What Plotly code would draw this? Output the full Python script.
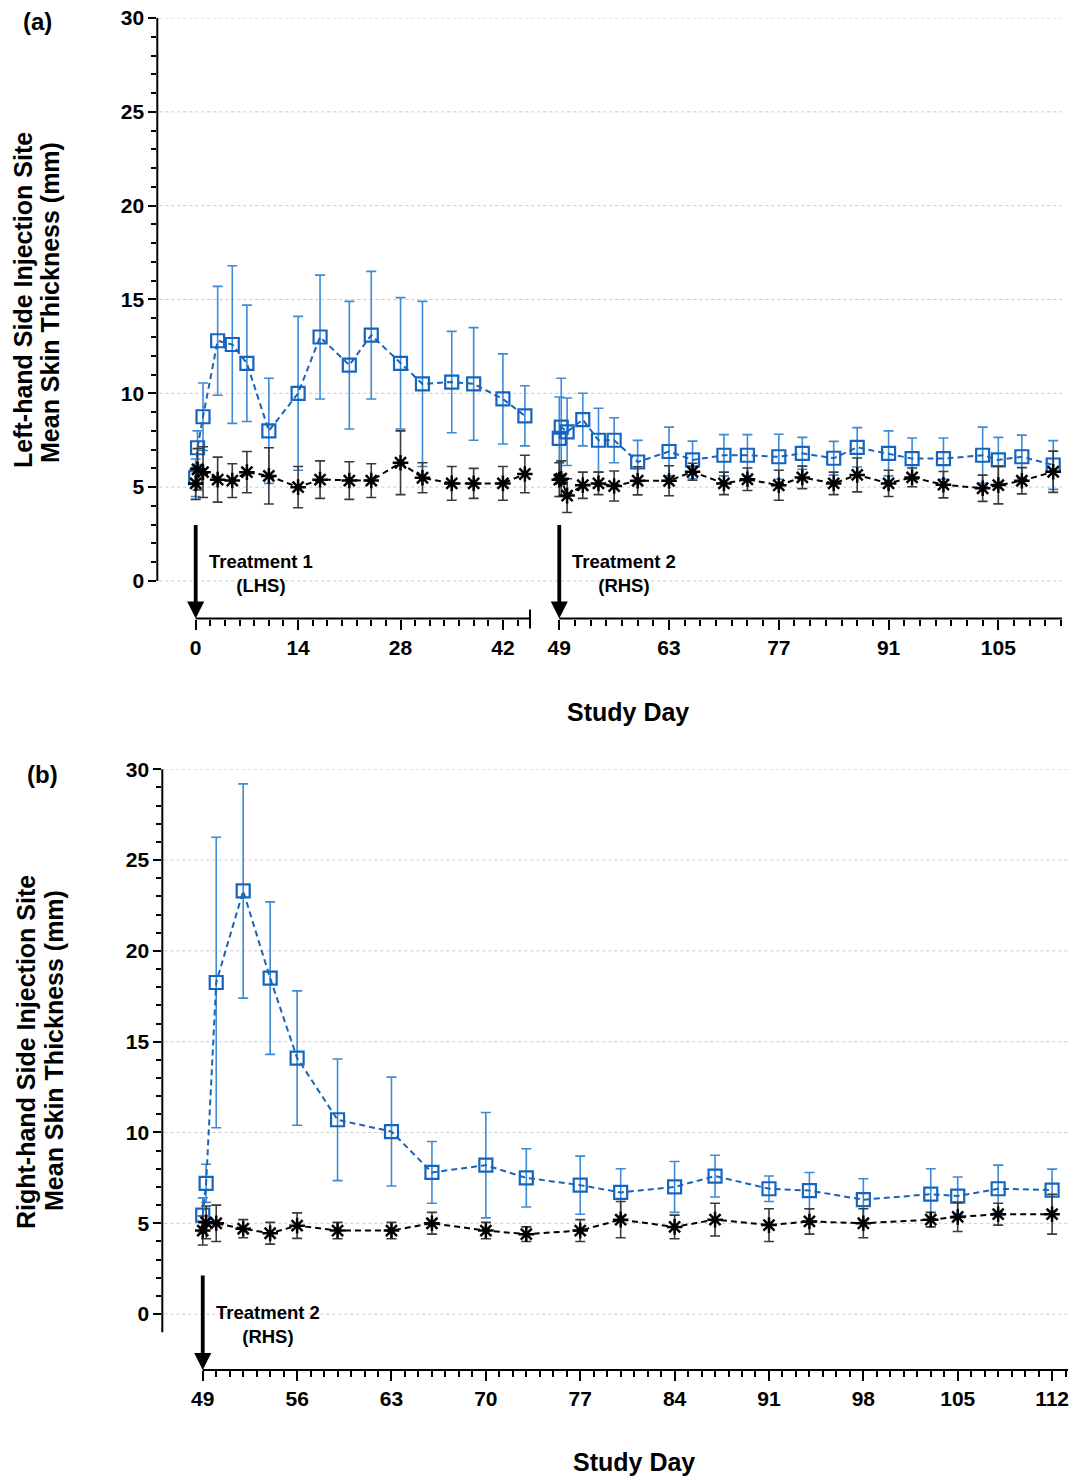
import plotly.graph_objects as go

W, H = 1073, 1477

# ---------------- data ----------------
# Panel (a): left-hand side injection site, segment 1 (Treatment 1)
days_a1 = [0, 0.25, 1, 3, 5, 7, 10, 14, 17, 21, 24, 28, 31, 35, 38, 42, 45]
blue_a1 = [5.5, 7.1, 8.75, 12.8, 12.6, 11.6, 8.0, 10.0, 13.0, 11.5, 13.1, 11.6, 10.5, 10.6, 10.5, 9.7, 8.8]
blue_a1_err = [1.0, 0.9, 1.8, 2.9, 4.2, 3.1, 2.8, 4.1, 3.3, 3.4, 3.4, 3.5, 4.4, 2.7, 3.0, 2.4, 1.6]
black_a1 = [5.2, 5.95, 5.8, 5.4, 5.35, 5.8, 5.6, 5.0, 5.4, 5.35, 5.35, 6.3, 5.5, 5.2, 5.2, 5.2, 5.7]
black_a1_err = [0.85, 1.1, 1.35, 1.2, 0.9, 1.1, 1.5, 1.1, 1.0, 1.0, 0.9, 1.7, 0.8, 0.9, 0.8, 0.9, 1.0]

# Panel (a): segment 2 (after Treatment 2)
days_a2 = [49, 49.25, 50, 52, 54, 56, 59, 63, 66, 70, 73, 77, 80, 84, 87, 91, 94, 98, 103, 105, 108, 112]
blue_a2 = [7.6, 8.2, 7.95, 8.6, 7.5, 7.5, 6.34, 6.9, 6.45, 6.7, 6.7, 6.62, 6.8, 6.54, 7.12, 6.8, 6.52, 6.52, 6.7, 6.45, 6.62, 6.18]
blue_a2_err = [2.2, 2.6, 1.8, 1.4, 1.7, 1.2, 1.15, 1.3, 1.0, 1.1, 1.1, 1.2, 0.85, 0.9, 1.05, 1.2, 1.1, 1.1, 1.5, 1.2, 1.15, 1.3]
black_a2 = [5.4, 5.45, 4.55, 5.1, 5.2, 5.06, 5.34, 5.34, 5.82, 5.2, 5.42, 5.1, 5.52, 5.2, 5.65, 5.2, 5.52, 5.13, 4.94, 5.11, 5.34, 5.82]
black_a2_err = [0.9, 0.95, 0.9, 0.7, 0.6, 0.8, 0.75, 0.8, 0.45, 0.6, 0.6, 0.8, 0.6, 0.6, 0.9, 0.7, 0.5, 0.7, 0.7, 1.0, 0.7, 1.1]

# Panel (b): right-hand side injection site
days_b = [49, 49.25, 50, 52, 54, 56, 59, 63, 66, 70, 73, 77, 80, 84, 87, 91, 94, 98, 103, 105, 108, 112]
blue_b = [5.45, 7.2, 18.26, 23.3, 18.5, 14.1, 10.7, 10.05, 7.8, 8.2, 7.5, 7.1, 6.7, 7.0, 7.6, 6.9, 6.8, 6.3, 6.6, 6.5, 6.9, 6.83]
blue_b_err = [0.95, 1.05, 8.0, 5.9, 4.2, 3.7, 3.35, 3.0, 1.7, 2.9, 1.6, 1.6, 1.3, 1.4, 1.15, 0.7, 1.0, 1.15, 1.4, 1.05, 1.3, 1.15]
black_b = [4.6, 5.05, 5.0, 4.7, 4.45, 4.87, 4.6, 4.6, 5.0, 4.6, 4.4, 4.6, 5.2, 4.8, 5.2, 4.9, 5.1, 5.0, 5.2, 5.35, 5.5, 5.5]
black_b_err = [0.8, 0.9, 1.0, 0.5, 0.6, 0.7, 0.45, 0.45, 0.6, 0.45, 0.4, 0.6, 1.0, 0.65, 0.9, 0.9, 0.7, 0.8, 0.4, 0.8, 0.6, 1.1]

# ticks
ytick_vals = [0, 5, 10, 15, 20, 25, 30]
xtick_a1 = [0, 14, 28, 42]
xtick_a2 = [49, 63, 77, 91, 105]
xtick_b = [49, 56, 63, 70, 77, 84, 91, 98, 105, 112]

# ---------------- styling helpers ----------------
FONT = "Liberation Sans"
BLUE_M = "#1565c0"
BLUE_L = "#1a63b8"
BLUE_E = "#3d8ad6"
BLACK_E = "#3a3a3a"


def fx(px):
    return px / W


def fy(py):
    return 1 - py / H


fig = go.Figure()


def add_pair(days, bl, ble, bk, bke, xa, ya):
    fig.add_trace(go.Scatter(
        x=days, y=bl, mode="lines+markers", xaxis=xa, yaxis=ya,
        line=dict(color=BLUE_L, width=2, dash="6px,4px"),
        marker=dict(symbol="square-open", size=13, color=BLUE_M, line=dict(width=2.2, color=BLUE_M)),
        error_y=dict(type="data", array=ble, visible=True, color=BLUE_E, thickness=1.6, width=5),
        showlegend=False, cliponaxis=False))
    fig.add_trace(go.Scatter(
        x=days, y=bk, mode="lines+markers", xaxis=xa, yaxis=ya,
        line=dict(color="black", width=2, dash="6px,4px"),
        marker=dict(symbol="asterisk-open", size=13, color="black", line=dict(width=2.5, color="black")),
        error_y=dict(type="data", array=bke, visible=True, color=BLACK_E, thickness=1.6, width=5),
        showlegend=False, cliponaxis=False))


add_pair(days_a1, blue_a1, blue_a1_err, black_a1, black_a1_err, "x", "y")
add_pair(days_a2, blue_a2, blue_a2_err, black_a2, black_a2_err, "x2", "y")
add_pair(days_b, blue_b, blue_b_err, black_b, black_b_err, "x3", "y3")

tickfont = dict(family=FONT, size=21, color="black", weight="bold")

# pixel geometry
A_TOP, A_BOT = 18.0, 618.5      # panel a: y=30 .. y=-2
B_TOP, B_BOT = 769.3, 1370.0    # panel b: y=30 .. y=-3.08
A_YAX = 157.3
B_YAX = 162.3
A1_R = 530.0
A2_L, A2_R = 545.0, 1062.0
B_R = 1068.0


def xaxis_cfg(domain, rng, tickvals, minor_vals, anchor):
    return dict(domain=domain, range=rng, anchor=anchor, tickmode="array", tickvals=tickvals,
                ticktext=[str(v) for v in tickvals], ticks="outside", ticklen=10, tickwidth=2,
                tickcolor="black", showline=False, showgrid=False, zeroline=False,
                tickfont=tickfont, ticklabelstandoff=0, automargin=False,
                minor=dict(tickmode="array", tickvals=minor_vals, ticks="outside", ticklen=6,
                           tickwidth=1.6, tickcolor="black", showgrid=False))


def yaxis_cfg(domain, rng, anchor):
    return dict(domain=domain, range=rng, anchor=anchor, tickmode="array", tickvals=ytick_vals,
                ticks="outside", ticklen=8, tickwidth=2, tickcolor="black", automargin=False,
                showline=False, showgrid=False, zeroline=False, tickfont=tickfont,
                minor=dict(tickmode="array", tickvals=[v for v in range(1, 30) if v % 5],
                           ticks="outside", ticklen=5, tickwidth=1.6, tickcolor="black", showgrid=False))


fig.update_layout(
    width=W, height=H,
    margin=dict(l=0, r=0, t=0, b=0, pad=0, autoexpand=False),
    paper_bgcolor="white", plot_bgcolor="white",
    xaxis=xaxis_cfg([fx(A_YAX), fx(A1_R)], [-5.25, 45.7], xtick_a1,
                    [v for v in range(2, 46, 2) if v % 14], "y"),
    xaxis2=xaxis_cfg([fx(A2_L), fx(A2_R)], [47.18, 113.12], xtick_a2,
                     [v for v in range(51, 114, 2) if (v - 49) % 14], "y"),
    xaxis3=xaxis_cfg([fx(B_YAX), fx(B_R)], [46.0, 113.18], xtick_b,
                     [v for v in range(50, 114) if (v - 49) % 7], "y3"),
    yaxis=yaxis_cfg([fy(A_BOT), fy(A_TOP)], [-2, 30], "x"),
    yaxis3=yaxis_cfg([fy(B_BOT), fy(B_TOP)], [-3.08, 30], "x3"),
)

shapes = []
line_k = dict(color="black", width=2)
# gridlines (dotted)
for v in ytick_vals:
    shapes.append(dict(type="line", xref="paper", yref="y", x0=fx(A_YAX + 2), x1=fx(A2_R),
                       y0=v, y1=v, line=dict(color="#c9c9c9", width=1, dash="3px,3px"), layer="below"))
    shapes.append(dict(type="line", xref="paper", yref="y3", x0=fx(B_YAX + 2), x1=fx(B_R),
                       y0=v, y1=v, line=dict(color="#c9c9c9", width=1, dash="3px,3px"), layer="below"))
# y axis lines
A_Y0 = A_TOP + 30 * (A_BOT - A_TOP) / 32.0
shapes.append(dict(type="line", xref="paper", yref="paper", x0=fx(A_YAX), x1=fx(A_YAX),
                   y0=fy(A_TOP), y1=fy(A_Y0), line=line_k))
B_UNIT = (B_BOT - B_TOP) / 33.08
shapes.append(dict(type="line", xref="paper", yref="paper", x0=fx(B_YAX), x1=fx(B_YAX),
                   y0=fy(B_TOP), y1=fy(B_TOP + 31 * B_UNIT), line=line_k))
# x axis lines
A1_X0 = A_YAX + 5.25 * (A1_R - A_YAX) / 50.95
shapes.append(dict(type="line", xref="paper", yref="paper", x0=fx(A1_X0), x1=fx(A1_R),
                   y0=fy(A_BOT), y1=fy(A_BOT), line=line_k))
shapes.append(dict(type="line", xref="paper", yref="paper", x0=fx(A1_R), x1=fx(A1_R),
                   y0=fy(A_BOT - 9), y1=fy(A_BOT + 10), line=line_k))
A2_X0 = A2_L + (49 - 47.18) * (A2_R - A2_L) / (113.12 - 47.18)
shapes.append(dict(type="line", xref="paper", yref="paper", x0=fx(A2_X0), x1=fx(A2_R),
                   y0=fy(A_BOT), y1=fy(A_BOT), line=line_k))
B_X0 = B_YAX + (49 - 46.0) * (B_R - B_YAX) / (113.18 - 46.0)
shapes.append(dict(type="line", xref="paper", yref="paper", x0=fx(B_X0), x1=fx(B_R),
                   y0=fy(B_BOT), y1=fy(B_BOT), line=line_k))
fig.update_layout(shapes=shapes)

ann = []
# arrows
for xr, yr, xv, yv, L in [("x", "y", 0, -2, 95), ("x2", "y", 49, -2, 95), ("x3", "y3", 49, -3.08, 96)]:
    ann.append(dict(xref=xr, yref=yr, x=xv, y=yv, ax=0, ay=-L, text="", showarrow=True,
                    arrowhead=2, arrowwidth=3.8, arrowsize=0.9, arrowcolor="black", standoff=0))
lab = dict(family=FONT, size=18.5, color="black", weight="bold")
ann.append(dict(xref="paper", yref="paper", x=fx(261), y=fy(573), text="Treatment 1<br>(LHS)",
                showarrow=False, font=lab, align="center", xanchor="center", yanchor="middle"))
ann.append(dict(xref="paper", yref="paper", x=fx(624), y=fy(573), text="Treatment 2<br>(RHS)",
                showarrow=False, font=lab, align="center", xanchor="center", yanchor="middle"))
ann.append(dict(xref="paper", yref="paper", x=fx(268), y=fy(1324), text="Treatment 2<br>(RHS)",
                showarrow=False, font=lab, align="center", xanchor="center", yanchor="middle"))
# axis titles
tf = dict(family=FONT, size=25, color="black", weight="bold")
ann.append(dict(xref="paper", yref="paper", x=fx(628), y=fy(712), text="Study Day",
                showarrow=False, font=tf, xanchor="center", yanchor="middle"))
ann.append(dict(xref="paper", yref="paper", x=fx(634), y=fy(1462), text="Study Day",
                showarrow=False, font=tf, xanchor="center", yanchor="middle"))
yt = dict(family=FONT, size=25, color="black", weight="bold")
for xp, yp, t in [(23, 300, "Left-hand Side Injection Site"), (50, 303, "Mean Skin Thickness (mm)"),
                  (26, 1052, "Right-hand Side Injection Site"), (54, 1051, "Mean Skin Thickness (mm)")]:
    ann.append(dict(xref="paper", yref="paper", x=fx(xp), y=fy(yp), text=t, textangle=-90,
                    showarrow=False, font=yt, xanchor="center", yanchor="middle"))
# panel labels
pf = dict(family=FONT, size=24, color="black", weight="bold")
ann.append(dict(xref="paper", yref="paper", x=fx(37), y=fy(22), text="(a)", showarrow=False,
                font=pf, xanchor="center", yanchor="middle"))
ann.append(dict(xref="paper", yref="paper", x=fx(42), y=fy(775), text="(b)", showarrow=False,
                font=pf, xanchor="center", yanchor="middle"))
fig.update_layout(annotations=ann)

fig.write_html("out.html", config={"displayModeBar": False},
               post_script="document.body.style.margin='0';")
